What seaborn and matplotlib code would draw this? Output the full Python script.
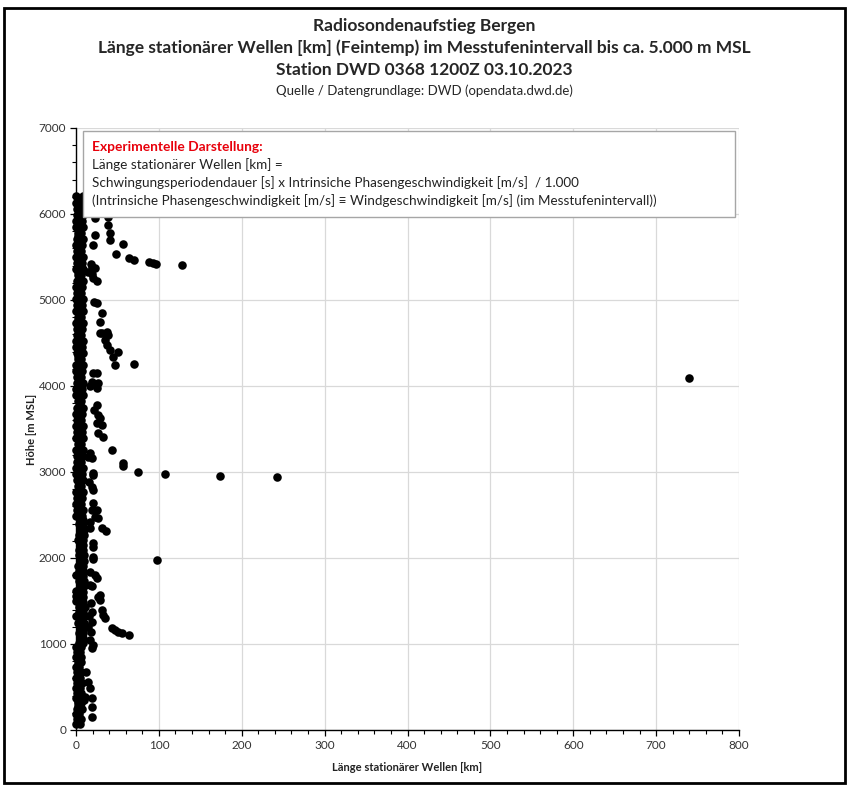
import pandas as pd
import numpy as np
import matplotlib.pyplot as plt
import seaborn as sns
from matplotlib.patches import Rectangle
from matplotlib.ticker import MultipleLocator

# --- data ---
# dense core near the axis, lowest layer (0-1000 m)
lo_h = [75, 130, 190, 250, 310, 370, 430, 490, 550, 610, 670, 730, 790, 850, 910, 970]
lo_x1 = [0.5, 1.5, 0.0, 1.0, 2.0, 0.5, 1.0, 0.0, 1.5, 0.5, 1.0, 0.0, 2.0, 0.5, 1.0, 0.0]
lo_x2 = [5.0, 6.5, 4.0, 7.0, 5.5, 3.5, 6.0, 4.5, 7.5, 5.0, 6.0, 4.0, 6.5, 5.5, 4.5, 6.0]
lo_h3 = [100, 160, 220, 280, 340, 400, 460, 520, 580, 640, 700, 760, 820, 880, 940]
lo_x3 = [3.0, 2.5, 3.5, 3.0, 2.0, 3.5, 3.0, 2.5, 3.0, 3.5, 2.5, 3.0, 2.0, 3.5, 3.0]

# core, middle layer (1000-2450 m), column shifted slightly right
mid_h = [1010, 1070, 1130, 1190, 1250, 1310, 1370, 1430, 1490, 1550, 1610, 1670, 1730,
         1790, 1850, 1910, 1970, 2030, 2090, 2150, 2210, 2270, 2330, 2390, 2440]
mid_x1 = [4.0, 5.0, 3.5, 4.5, 3.0, 5.0, 4.0, 3.5, 4.5, 3.0, 4.0, 5.0, 3.5, 4.5, 4.0,
          3.0, 5.0, 4.0, 3.5, 4.5, 3.0, 4.0, 5.0, 3.5, 4.5]
mid_x2 = [8.5, 9.0, 8.0, 10.0, 9.5, 8.0, 9.0, 10.5, 8.5, 9.0, 8.0, 9.5, 10.0, 8.5, 9.0,
          8.0, 9.5, 10.0, 8.5, 9.0, 8.0, 9.5, 10.0, 8.5, 9.0]
mid_h3 = [1040, 1100, 1160, 1220, 1280, 1340, 1400, 1460, 1520, 1580, 1640, 1700, 1760,
          1820, 1880, 1940, 2000, 2060, 2120, 2180, 2240, 2300, 2360, 2420]
mid_x3 = [6.5, 6.0, 7.0, 6.5, 6.0, 7.0, 6.5, 6.0, 7.0, 6.5, 6.0, 7.0, 6.5, 6.0, 7.0,
          6.5, 6.0, 7.0, 6.5, 6.0, 7.0, 6.5, 6.0, 7.0]
mid_zero_h = [1330, 1500, 1560, 1620, 1800]

# core, upper layer (2480-6210 m)
hi_h = [2490, 2560, 2630, 2700, 2770, 2840, 2910, 2980, 3050, 3120, 3190, 3260, 3330,
        3400, 3470, 3540, 3610, 3680, 3750, 3820, 3890, 3960, 4030, 4100, 4170, 4240,
        4310, 4380, 4450, 4520, 4590, 4660, 4730, 4800, 4870, 4940, 5010, 5080, 5150,
        5220, 5290, 5360, 5430, 5500, 5570, 5640, 5710, 5780, 5850, 5920, 5990, 6060,
        6130, 6210]
hi_x1 = [0.5, 1.0, 0.0, 1.5, 0.5, 2.0, 1.0, 0.0, 0.5, 1.5,
         1.0, 0.0, 2.0, 0.5, 1.0, 0.0, 1.5, 0.5, 1.0, 2.0,
         0.0, 0.5, 1.5, 1.0, 0.0, 0.5, 2.0, 1.0, 0.5, 0.0,
         1.5, 1.0, 0.5, 2.0, 0.0, 1.0, 0.5, 1.5, 0.0, 1.0,
         2.0, 0.5, 1.0, 0.0, 1.5, 0.5, 1.0, 2.0, 0.0, 0.5,
         1.5, 1.0, 0.5, 0.0]
hi_x2 = [7.0, 8.5, 6.0, 7.5, 9.0, 6.5, 8.0, 7.0, 8.5, 6.0,
         7.5, 9.0, 6.5, 8.0, 7.0, 8.5, 6.0, 7.5, 9.0, 6.5,
         8.0, 7.0, 8.5, 6.0, 7.5, 9.0, 6.5, 8.0, 7.0, 8.5,
         6.0, 7.5, 9.0, 6.5, 8.0, 7.0, 8.5, 6.0, 7.5, 9.0,
         6.5, 8.0, 7.0, 8.5, 6.0, 7.5, 9.0, 6.5, 8.0, 7.0,
         8.5, 6.0, 7.5, 8.0]
hi_h3 = [2525, 2595, 2665, 2735, 2805, 2875, 2945, 3015, 3085, 3155, 3225, 3295, 3365,
         3435, 3505, 3575, 3645, 3715, 3785, 3855, 3925, 3995, 4065, 4135, 4205, 4275,
         4345, 4415, 4485, 4555, 4625, 4695, 4765, 4835, 4905, 4975, 5045, 5115, 5185,
         5255, 5325, 5395, 5465, 5535, 5605, 5675, 5745, 5815, 5885, 5955, 6025, 6095,
         6165]
hi_x3 = [4.0, 3.5, 4.5, 3.0, 5.0, 4.0, 3.5, 4.5, 3.0, 4.0,
         5.0, 3.5, 4.0, 4.5, 3.0, 4.0, 5.0, 3.5, 4.5, 4.0,
         3.0, 4.0, 4.5, 3.5, 5.0, 4.0, 3.0, 4.5, 4.0, 3.5,
         5.0, 4.0, 3.0, 4.5, 3.5, 4.0, 5.0, 4.0, 3.5, 4.5,
         3.0, 4.0, 4.5, 3.5, 5.0, 4.0, 3.0, 4.5, 4.0, 3.5,
         5.0, 4.0, 4.5]

# scattered points away from the core
scat_km = [23, 39, 39, 41, 41, 23, 21, 57, 48, 64, 70, 88, 93, 97, 128, 19, 23, 15, 19,
           25, 20, 18, 22, 25, 31, 29, 29, 31, 37, 39, 35, 37, 41, 51, 45, 47, 70, 20, 25,
           19, 27, 25, 17, 740, 25, 22, 27, 29, 25, 31, 27, 33, 43, 17, 19, 15, 57, 57,
           75, 107, 174, 243, 20, 21, 19, 20, 16, 20, 19, 25, 23, 27, 17, 17, 31, 36,
           20, 20, 20, 21, 98, 17, 23, 25, 17, 19, 29, 27, 29, 31, 33, 35, 18, 19, 19,
           18, 17, 20, 19, 16, 14, 43, 47, 51, 55, 64, 12, 14, 17, 19, 19, 19, 11, 10]
scat_m = [5950, 5960, 5870, 5780, 5700, 5755, 5640, 5650, 5535, 5490, 5465, 5440, 5430,
          5420, 5405, 5380, 5370, 5325, 5300, 5220, 5260, 5420, 4975, 4965, 4850, 4745,
          4620, 4615, 4630, 4590, 4535, 4480, 4420, 4400, 4340, 4245, 4255, 4150, 4155,
          4050, 4035, 3975, 4000, 4090, 3780, 3720, 3660, 3630, 3570, 3545, 3450, 3410,
          3255, 3220, 3165, 3175, 3105, 3070, 2995, 2975, 2950, 2940, 2965, 2990, 2825,
          2790, 2880, 2640, 2560, 2560, 2475, 2465, 2420, 2350, 2350, 2315, 2175, 2130,
          2010, 1990, 1975, 1840, 1800, 1765, 1685, 1670, 1570, 1550, 1510, 1395, 1340,
          1300, 1475, 1375, 1255, 1140, 1045, 990, 950, 1320, 1200, 1185, 1165, 1140,
          1130, 1105, 675, 560, 490, 370, 270, 150, 385, 350]

core = pd.concat([
    pd.DataFrame({"km": lo_x1, "m": lo_h}),
    pd.DataFrame({"km": lo_x2, "m": lo_h}),
    pd.DataFrame({"km": lo_x3, "m": lo_h3}),
    pd.DataFrame({"km": mid_x1, "m": mid_h}),
    pd.DataFrame({"km": mid_x2, "m": mid_h}),
    pd.DataFrame({"km": mid_x3, "m": mid_h3}),
    pd.DataFrame({"km": [0.0] * len(mid_zero_h), "m": mid_zero_h}),
    pd.DataFrame({"km": hi_x1, "m": hi_h}),
    pd.DataFrame({"km": hi_x2, "m": hi_h}),
    pd.DataFrame({"km": hi_x3, "m": hi_h3}),
])
df = pd.concat([core, pd.DataFrame({"km": scat_km, "m": scat_m})], ignore_index=True)

# --- plot ---
sns.set_theme(style="white")
plt.rcParams["font.family"] = ["Lato", "DejaVu Sans"]

fig = plt.figure(figsize=(8.49, 7.86), dpi=100)
ax = fig.add_axes([76 / 849, 56 / 786, 663 / 849, 602 / 786])

sns.scatterplot(data=df, x="km", y="m", color="black", s=38, linewidth=0,
                ax=ax, legend=False, zorder=3, clip_on=False)

ax.set_xlim(0, 800)
ax.set_ylim(0, 7000)
ax.xaxis.set_major_locator(MultipleLocator(100))
ax.xaxis.set_minor_locator(MultipleLocator(20))
ax.yaxis.set_major_locator(MultipleLocator(1000))
ax.yaxis.set_minor_locator(MultipleLocator(200))
ax.grid(True, which="major", color="#d9d9d9", linewidth=0.9, zorder=0)
ax.set_axisbelow(True)

for side in ["top", "right"]:
    ax.spines[side].set_visible(False)
for side in ["left", "bottom"]:
    ax.spines[side].set_color("black")
    ax.spines[side].set_linewidth(1.0)

ax.tick_params(which="major", direction="out", length=4, width=0.9, color="black",
               labelsize=8.5, labelcolor="#333333", bottom=True, left=True, pad=3)
ax.tick_params(which="minor", direction="out", length=3, width=0.8, color="black",
               bottom=True, left=True)

ax.set_xlabel("Länge stationärer Wellen [km]", fontsize=8, fontweight="bold",
              labelpad=8, color="#222222")
ax.set_ylabel("Höhe [m MSL]", fontsize=8, fontweight="bold", labelpad=1,
              color="#222222")

# titles
fig.text(0.5, 1 - 26 / 786, "Radiosondenaufstieg Bergen", ha="center", va="center",
         fontsize=12.5, fontweight="bold")
fig.text(0.5, 1 - 48 / 786,
         "Länge stationärer Wellen [km] (Feintemp) im Messtufenintervall bis ca. 5.000 m MSL",
         ha="center", va="center", fontsize=12.5, fontweight="bold")
fig.text(0.5, 1 - 70 / 786, "Station DWD 0368 1200Z 03.10.2023", ha="center",
         va="center", fontsize=12.5, fontweight="bold")
fig.text(0.5, 1 - 91 / 786, "Quelle / Datengrundlage: DWD (opendata.dwd.de)",
         ha="center", va="center", fontsize=9.5)

# annotation box
box = Rectangle((83 / 849, 1 - 217 / 786), (735 - 83) / 849, (217 - 131) / 786,
                transform=fig.transFigure, facecolor="white", edgecolor="#a6a6a6",
                linewidth=1.0, zorder=5)
fig.add_artist(box)
fig.text(92 / 849, 1 - 147 / 786, "Experimentelle Darstellung:", color="#e8000b",
         fontsize=9.9, fontweight="bold", va="center", zorder=6)
lines = ["Länge stationärer Wellen [km] =",
         "Schwingungsperiodendauer [s] x Intrinsiche Phasengeschwindigkeit [m/s]  / 1.000",
         "(Intrinsiche Phasengeschwindigkeit [m/s] ≡ Windgeschwindigkeit [m/s] (im Messtufenintervall))"]
for i, txt in enumerate(lines):
    fig.text(92 / 849, 1 - (165 + 18 * i) / 786, txt, color="#222222", fontsize=9.75,
             va="center", zorder=6)

# outer chart border
frame = Rectangle((4 / 849, 3 / 786), 841 / 849, 775 / 786, transform=fig.transFigure,
                  facecolor="none", edgecolor="black", linewidth=2.0, zorder=10)
fig.add_artist(frame)

fig.savefig("out.png", dpi=100)
